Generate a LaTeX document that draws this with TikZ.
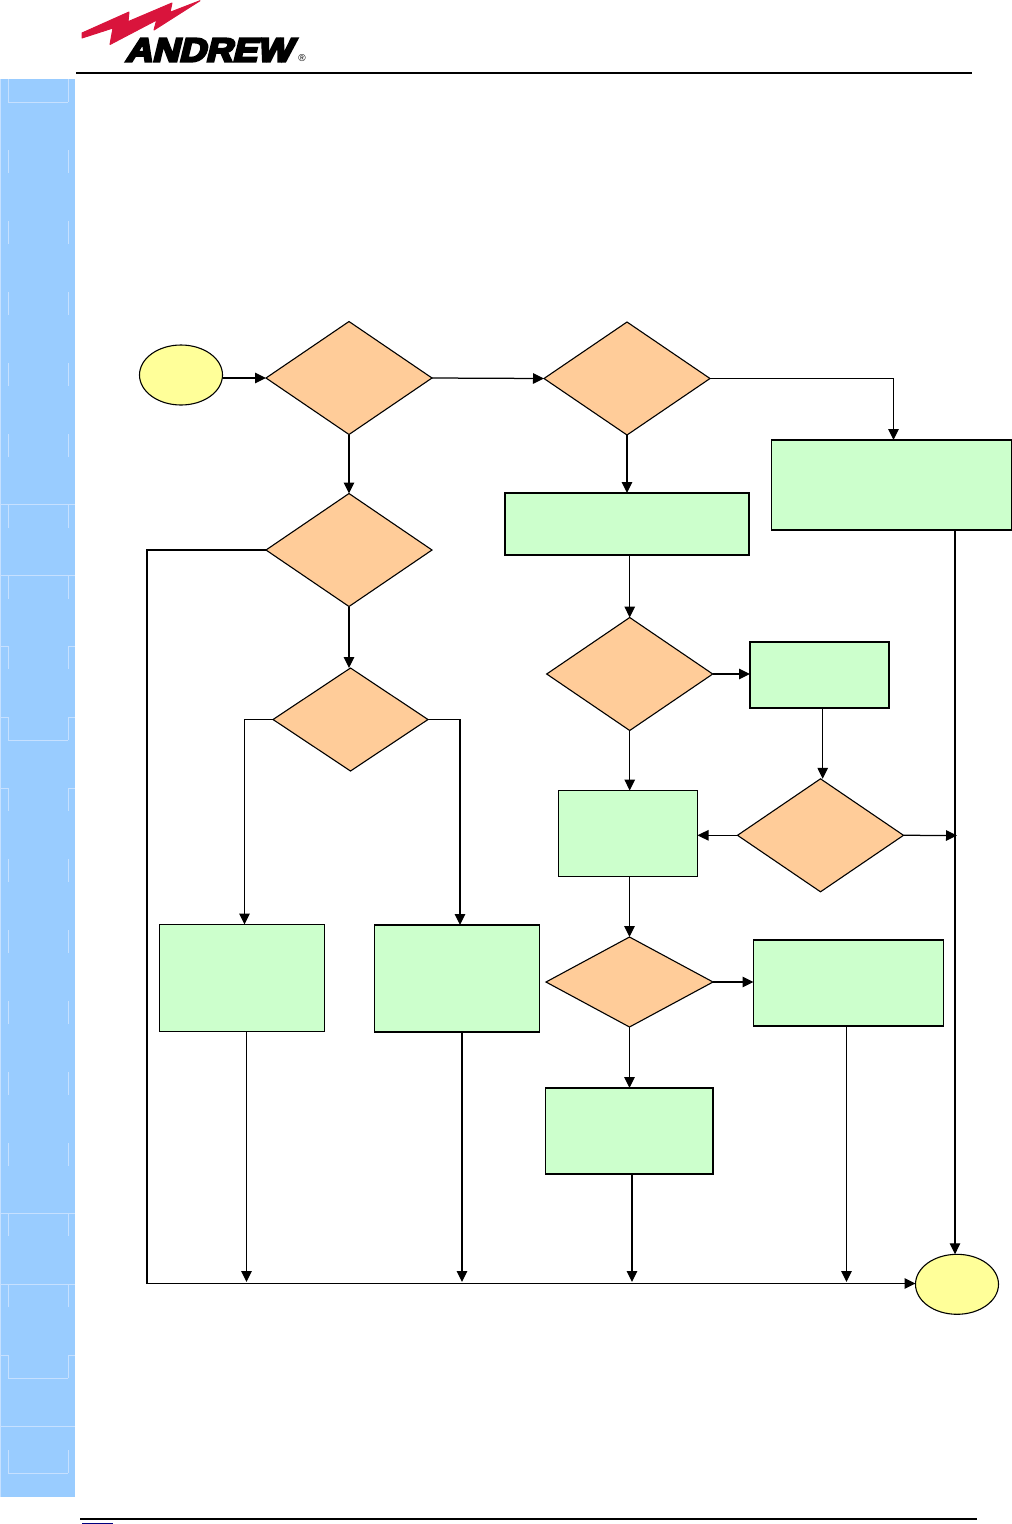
\documentclass[tikz,border=0pt]{standalone}
\usepackage{fontspec}
\newfontfamily\logofont[FakeBold=7,FakeSlant=0.22]{Liberation Sans Bold}
\newfontfamily\regfont{Liberation Sans}
\usetikzlibrary{shapes.geometric,arrows.meta,calc}
\definecolor{sidebar}{HTML}{99CCFF}
\definecolor{sideline}{HTML}{C6E0FF}
\definecolor{decfill}{HTML}{FFCC99}
\definecolor{boxfill}{HTML}{CCFFCC}
\definecolor{termfill}{HTML}{FFFF99}
\definecolor{logored}{HTML}{D9143C}
\definecolor{navyline}{HTML}{000080}
\tikzset{
  x=1pt,y=-1pt,
  decn/.style={diamond,draw=black,fill=decfill,line width=1.1pt,inner sep=0pt,outer sep=0pt,aspect=1.47},
  boxn/.style={rectangle,draw=black,fill=boxfill,line width=1.1pt,inner sep=0pt,outer sep=0pt},
  thickbox/.style={boxn,line width=1.6pt},
  termn/.style={ellipse,draw=black,fill=termfill,line width=1.1pt,inner sep=0pt,outer sep=0pt,minimum width=83pt,minimum height=60pt},
  conn/.style={draw=black,line width=1.25pt,-{Triangle[length=11pt,width=10.5pt]}},
  plainconn/.style={draw=black,line width=2pt},
  sl/.style={draw=sideline,line width=1pt},
}
\begin{document}
\begin{tikzpicture}
\useasboundingbox (0,0) rectangle (1012,1524);
% sidebar
\fill[sidebar] (0,79) rectangle (75,1497);
\draw[sl] (0.7,79) -- (0.7,1497);
\foreach \y in {79,150,221,292,363,434,505,576,646,717,788,859,930,1001,1072,1143,1213,1284,1355,1450}
  \draw[sl] (8,\y) -- +(0,23) (68,\y) -- +(0,23);
\foreach \y in {504,575,1213,1284,1426}
  \draw[sl] (0,\y) -- (75,\y);
\foreach \y in {646,717,788,1355}
  \draw[sl] (0,\y) -- (8,\y) (68,\y) -- (75,\y);
\foreach \y in {102,740,1378,1473}
  \draw[sl] (8,\y) -- (68,\y);
% header and footer
\filldraw[fill=logored,draw=logored,line width=1pt,line join=round] (82,33) -- (129,12) -- (128,21.7) -- (172,3) -- (170,12.3) -- (200,0.7) -- (154,30) -- (156.7,20) -- (110,44.5) -- (113,28) -- (82,38) -- cycle;
\node[inner sep=0pt,anchor=base west] (logotext) at (125,61.5) {\scalebox{1.0}[0.9]{\logofont\fontsize{37}{37}\selectfont ANDREW}};
\node[inner sep=0pt] (logoreg) at (302,58.5) {\regfont\fontsize{10}{10}\selectfont ®};
\draw[line width=2pt] (76,72.5) -- (972,72.5);
\draw[line width=2pt] (80,1519) -- (977,1519);
\fill[navyline] (82,1523) rectangle (113,1524);
% nodes
\node[termn] (start) at (181,375) {};
\node[termn] (stop) at (957,1284.3) {};
\node[decn,minimum width=166pt,minimum height=113pt] (d1) at (349,378) {};
\node[decn,minimum width=166pt,minimum height=113pt] (d2) at (349,550) {};
\node[decn,minimum width=155pt,minimum height=103pt] (d3) at (350.5,719.5) {};
\node[decn,minimum width=166pt,minimum height=113pt] (d4) at (627,378.5) {};
\node[decn,minimum width=166pt,minimum height=113pt] (d5) at (629.7,674) {};
\node[decn,minimum width=166pt,minimum height=113pt] (d6) at (820.5,835.3) {};
\node[decn,minimum width=167pt,minimum height=90pt] (d7) at (629.5,982) {};
\node[boxn,minimum width=240pt,minimum height=90pt] (b1) at (891.5,485) {};
\node[thickbox,minimum width=244pt,minimum height=62pt] (b2) at (627,524) {};
\node[thickbox,minimum width=139pt,minimum height=66pt] (b3) at (819.5,675) {};
\node[boxn,minimum width=139pt,minimum height=86pt] (b4) at (628,833.5) {};
\node[boxn,minimum width=165pt,minimum height=107pt] (b5) at (241.8,978) {};
\node[boxn,line width=1.3pt,minimum width=165pt,minimum height=107pt] (b6) at (457.3,978.5) {};
\node[thickbox,minimum width=190pt,minimum height=86pt] (b7) at (848.5,983) {};
\node[thickbox,minimum width=167.5pt,minimum height=86pt] (b8) at (629.3,1131) {};
% free ends
\coordinate (busL) at (146.5,1283.5);
\coordinate (busA) at (246.5,1282);
\coordinate (busB) at (462,1282);
\coordinate (busC) at (632,1282);
\coordinate (busD) at (846.5,1282);
\coordinate (joinR) at (957,835.5);
% connectors
\draw[conn] (start.east |- d1.west) -- (d1.west);
\draw[conn] (d1.east) -- (d4.west);
\draw[conn] (d1.south) -- (d2.north);
\draw[conn] (d2.south) -- (d2.south |- d3.north);
\draw[conn] (d3.west) -- (244.5,719.5) -- (244.5,924.5);
\draw[conn] (d3.east) -- (460,719.5) -- (460,925);
\draw[conn] (d4.east) -- (893.5,378.5) -- (893.5,440);
\draw[conn] (d4.south) -- (d4.south |- b2.north);
\draw[conn] (b2.south -| d5.north) -- (d5.north);
\draw[conn] (d5.east) -- (d5.east -| b3.west);
\draw[conn] (d5.south) -- (d5.south |- b4.north);
\draw[conn] ($(b3.south)+(3.2,0)$) -- ($(d6.north)+(2.2,0)$);
\draw[conn] (d6.west) -- (d6.west -| b4.east);
\draw[conn] (d6.east) -- (joinR);
\draw[conn] (b4.south -| d7.north) -- (d7.north);
\draw[conn] (d7.east) -- (d7.east -| b7.west);
\draw[conn] (d7.south) -- (d7.south |- b8.north);
\draw[conn] (busA |- b5.south) -- (busA);
\draw[conn] (busB |- b6.south) -- (busB);
\draw[conn] (busC |- b8.south) -- (busC);
\draw[conn] (busD |- b7.south) -- (busD);
\draw[conn] (955,530) -- (955,1254.3);
\draw[plainconn] (d2.west) -- (d2.west -| busL) -- (busL);
\draw[conn] (busL) -- (stop.west |- busL);
\end{tikzpicture}
\end{document}
